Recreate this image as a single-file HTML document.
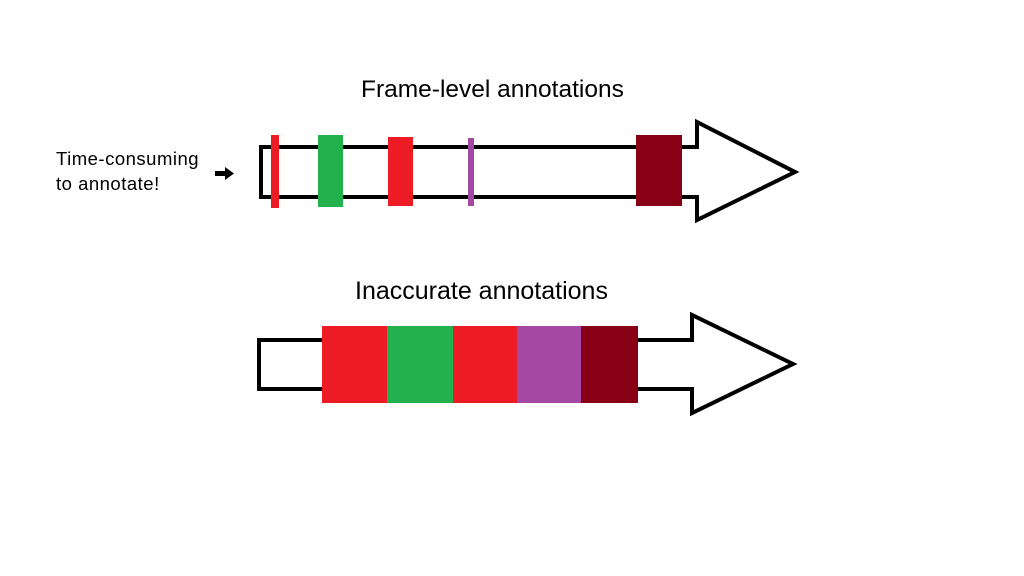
<!DOCTYPE html>
<html><head><style>
html,body{margin:0;padding:0;background:#fff;}
body{width:1024px;height:576px;overflow:hidden;position:relative;font-family:"Liberation Sans","DejaVu Sans",sans-serif;}
.t{position:absolute;color:#000;white-space:nowrap;}
</style></head><body>
<svg width="1024" height="576" style="position:absolute;left:0;top:0">
  <polygon points="261,147 697,147 697,122 795,172 697,220 697,197 261,197" fill="#fff" stroke="#000" stroke-width="4" stroke-linejoin="miter"/>
  <rect x="271" y="135" width="8" height="73" fill="#ed1c24"/>
  <rect x="318" y="135" width="25" height="72" fill="#22b14c"/>
  <rect x="388" y="137" width="25" height="69" fill="#ed1c24"/>
  <rect x="468" y="138" width="6" height="68" fill="#a349a4"/>
  <rect x="636" y="135" width="46" height="71" fill="#880015"/>
  <rect x="215" y="171" width="12" height="5" fill="#000"/>
  <polygon points="225,167 234,173.5 225,180" fill="#000"/>
  <polygon points="259,340 692,340 692,315 793,364 692,413 692,389 259,389" fill="#fff" stroke="#000" stroke-width="4" stroke-linejoin="miter"/>
  <rect x="322" y="326" width="65" height="77" fill="#ed1c24"/>
  <rect x="387" y="326" width="66" height="77" fill="#22b14c"/>
  <rect x="453" y="326" width="64" height="77" fill="#ed1c24"/>
  <rect x="517" y="326" width="64" height="77" fill="#a349a4"/>
  <rect x="581" y="326" width="57" height="77" fill="#880015"/>
</svg>
<div class="t" style="left:361px;top:76px;font-size:24.5px;">Frame-level annotations</div>
<div class="t" style="left:355px;top:277px;font-size:25px;">Inaccurate annotations</div>
<div class="t" style="left:56px;top:146px;font-size:18.5px;letter-spacing:0.5px;line-height:25px;">Time-consuming<br>to annotate!</div>
</body></html>
